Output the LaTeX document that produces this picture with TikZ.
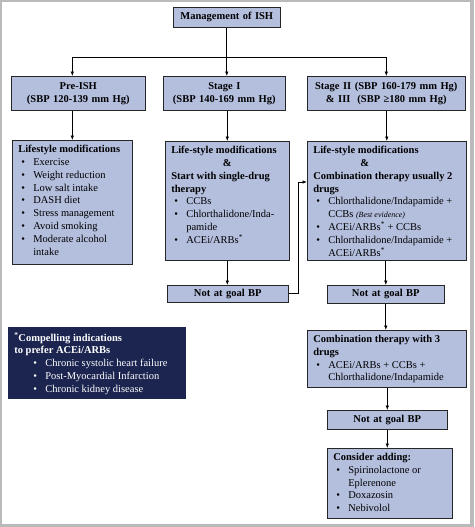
\documentclass[tikz,border=0pt]{standalone}
\usepackage{fontspec}
\setmainfont{Liberation Serif}
\usepackage{tikz}
\usetikzlibrary{arrows.meta}
\definecolor{boxblue}{RGB}{180,191,222}
\definecolor{notenavy}{RGB}{27,37,80}
\definecolor{framegray}{RGB}{186,186,186}
\tikzset{
  arr/.style={-{Latex[length=4.5pt,width=3.5pt]}, line width=0.7pt},
  hbox/.style 2 args={draw=black!85, fill=boxblue, line width=0.6pt, anchor=north west,
    inner sep=0pt, text width=#1pt, minimum height=#2pt, align=center,
    font=\fontsize{10.5}{12.8}\selectfont\bfseries},
  lbox/.style={draw=black!85, fill=boxblue, line width=0.6pt, anchor=north west,
    inner xsep=6pt, inner ysep=5pt, font=\fontsize{10.5}{12.8}\selectfont}
}
\newcommand{\lst}[3]{\begin{minipage}[t][\dimexpr#2pt-10pt][t]{\dimexpr#1pt-12pt}\rightskip=0pt plus 1fil\relax#3\end{minipage}}
\newcommand{\bitem}[2][15pt]{\par\hangindent=#1\hangafter=1\noindent\hbox to #1{\hspace{\dimexpr#1-12pt}\textbullet\hfil}#2}
\newcommand{\ace}{ACEi/ARBs\textsuperscript{*}}

\begin{document}
\begin{tikzpicture}[x=1pt,y=1pt]
\useasboundingbox (0,0) rectangle (474,-527);
\fill[framegray] (0,0) rectangle (474,-527);
\fill[white] (2,-2) rectangle (470,-524);

\node[hbox={107}{20}] (mgmt) at (173,-7) {Management of ISH};
\node[hbox={134}{34}] (pre) at (11,-76) {Pre-ISH\\(SBP 120-139 mm Hg)};
\node[hbox={122}{34}] (stg1) at (163,-76) {Stage I\\(SBP 140-169 mm Hg)};
\node[hbox={158}{34}] (stg2) at (307,-76) {Stage II (SBP 160-179 mm Hg)\\\& III\ \ (SBP ≥180 mm Hg)};

\node[lbox] (life) at (12,-140) {\lst{120}{124}{\textbf{Lifestyle modifications}
  \bitem{Exercise}
  \bitem{Weight reduction}
  \bitem{Low salt intake}
  \bitem{DASH diet}
  \bitem{Stress management}
  \bitem{Avoid smoking}
  \bitem{Moderate alcohol\\intake}}};
\node[lbox] (single) at (165,-141) {\lst{124}{119}{\textbf{Life-style modifications}\par
  \makebox[\linewidth]{\textbf{\&}}\par
  \textbf{Start with single-drug\\therapy}
  \bitem{CCBs}
  \bitem{Chlorthalidone/Inda-\\pamide}
  \bitem{\ace}}};
\node[lbox] (comb2) at (307,-141) {\lst{159}{119}{\textbf{Life-style modifications}\par
  \hspace*{47pt}\textbf{\&}\par
  \textbf{Combination therapy usually 2\\drugs}
  \bitem{Chlorthalidone/Indapamide +\\CCBs {\footnotesize\itshape (Best evidence)}}
  \bitem{\ace{} + CCBs}
  \bitem{Chlorthalidone/Indapamide +\\\ace}}};

\node[hbox={121}{17}] (ng1) at (167,-285) {Not at goal BP};
\node[hbox={117}{18}] (ng2) at (327,-285) {Not at goal BP};
\node[lbox] (comb3) at (307,-330) {\lst{159}{57}{\textbf{Combination therapy with 3\\drugs}
  \bitem{ACEi/ARBs + CCBs +\\Chlorthalidone/Indapamide}}};
\node[hbox={120}{19}] (ng3) at (327,-410) {Not at goal BP};
\node[lbox] (add) at (327,-448) {\lst{125}{70}{\textbf{Consider adding:}
  \bitem{Spirinolactone or\\Eplerenone}
  \bitem{Doxazosin}
  \bitem{Nebivolol}}};

\node[lbox, draw=notenavy, fill=notenavy, text=white] (note) at (8,-327) {\lst{177}{71}{\textbf{\textsuperscript{*}Compelling indications\\to prefer ACEi/ARBs}
  \bitem[31pt]{Chronic systolic heart failure}
  \bitem[31pt]{Post-Myocardial Infarction}
  \bitem[31pt]{Chronic kidney disease}}};

\coordinate (bar) at (0,-57);
\draw[arr] (mgmt) -- (mgmt |- stg1.north);
\draw[arr] (bar -| mgmt) -| (pre.north -| life);
\draw[arr] (bar -| mgmt) -| (stg2.north);
\draw[arr] (pre.south -| life) -- (life);
\draw[arr] (stg1.south -| single) -- (single);
\draw[arr] (stg2.south -| comb2) -- (comb2);
\draw[arr] (single.south) -- (single.south |- ng1.north);
\draw[arr] (ng1.east) -- ++(10,0) |- ([yshift=-41pt]comb2.north west);
\draw[arr] (comb2.south -| ng2) -- (ng2.north);
\draw[arr] (ng2.south) -- (ng2.south |- comb3.north);
\draw[arr] (comb3.south -| ng3) -- (ng3.north);
\draw[arr] (ng3.south) -- (ng3.south |- add.north);
\end{tikzpicture}
\end{document}
